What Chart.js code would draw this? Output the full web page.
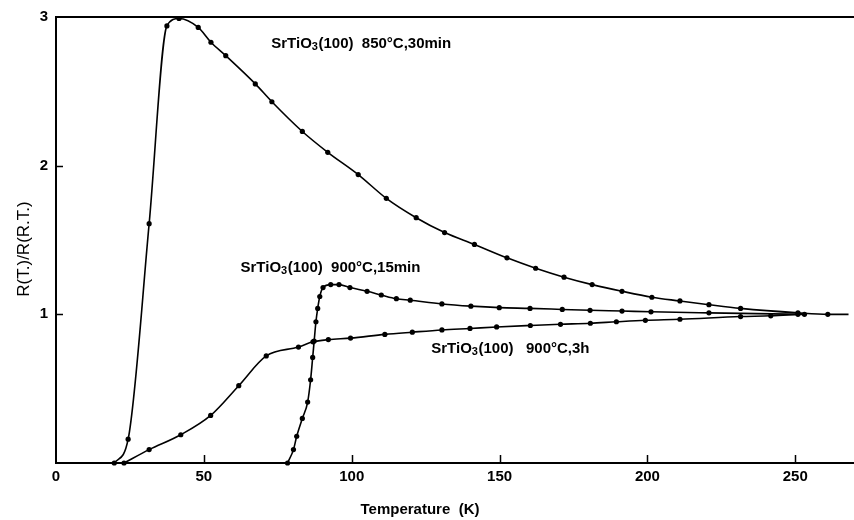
<!DOCTYPE html>
<html><head><meta charset="utf-8">
<script src="https://cdn.jsdelivr.net/npm/chart.js@4/dist/chart.umd.min.js"></script>
<style>html,body{margin:0;padding:0;background:#fff}#wrap{width:854px;height:520px}</style>
</head><body><div id="wrap"><canvas id="c" width="854" height="520"></canvas></div>
<script>
// Temperature (K) and R(T)/R(RT)
const temp850  = [19.7, 24.4, 31.5, 37.5, 41.6, 48.1, 52.4, 57.4, 67.4, 73.0, 83.3, 91.9, 102.2, 111.7, 121.8, 131.4, 141.5, 152.5, 162.2, 171.8, 181.3, 191.4, 201.5, 211.0, 220.8, 231.5, 250.9, 261.0, 268];
const ratio850 = [0, 0.16, 1.61, 2.94, 2.99, 2.93, 2.83, 2.74, 2.55, 2.43, 2.23, 2.09, 1.94, 1.78, 1.65, 1.55, 1.47, 1.38, 1.31, 1.25, 1.20, 1.155, 1.115, 1.09, 1.065, 1.04, 1.01, 1.00, 1.00];

const temp15  = [78.3, 80.3, 81.4, 83.3, 85.1, 86.1, 86.8, 87.3, 87.9, 88.5, 89.2, 90.3, 92.9, 95.7, 99.4, 105.2, 110.0, 115.1, 119.8, 130.5, 140.3, 149.9, 160.3, 171.2, 180.6, 191.4, 201.2, 220.8, 253.1];
const ratio15 = [0, 0.09, 0.18, 0.30, 0.41, 0.56, 0.71, 0.82, 0.95, 1.04, 1.12, 1.18, 1.20, 1.20, 1.18, 1.155, 1.13, 1.105, 1.095, 1.07, 1.055, 1.045, 1.04, 1.033, 1.027, 1.022, 1.017, 1.01, 1.00];

const temp3h  = [23.0, 31.5, 42.2, 52.3, 61.8, 71.1, 82.0, 86.9, 92.1, 99.6, 111.2, 120.5, 130.5, 140.0, 149.0, 160.4, 170.6, 180.7, 189.5, 199.3, 211.0, 231.5, 241.7, 250.9];
const ratio3h = [0, 0.09, 0.19, 0.32, 0.52, 0.72, 0.78, 0.815, 0.83, 0.84, 0.865, 0.88, 0.895, 0.905, 0.915, 0.925, 0.933, 0.94, 0.95, 0.96, 0.967, 0.985, 0.99, 1.00];

const xTickStep = 50;
const yTicks = [0, 1, 2, 3];
const xTitle = 'Temperature  (K)';
const yTitle = 'R(T.)/R(R.T.)';
const curveLabels = [
  {pre: 'SrTiO', sub: '3', post: '(100)  850°C,30min', t: 72.8, r: 2.82},
  {pre: 'SrTiO', sub: '3', post: '(100)  900°C,15min', t: 62.4, r: 1.31},
  {pre: 'SrTiO', sub: '3', post: '(100)   900°C,3h', t: 126.9, r: 0.77}
];

const toXY = (xs, ys) => xs.map((v, i) => ({x: v, y: ys[i]}));

const frame = {
  id: 'frame',
  beforeDatasetsDraw(chart) {
    const {ctx, chartArea: a, scales: {x, y}} = chart;
    ctx.save();
    ctx.strokeStyle = '#000';
    ctx.lineWidth = 2;
    ctx.beginPath();
    ctx.moveTo(chart.width, a.top); ctx.lineTo(a.left, a.top);
    ctx.lineTo(a.left, a.bottom); ctx.lineTo(chart.width, a.bottom);
    ctx.stroke();
    ctx.lineWidth = 1.5;
    ctx.beginPath();
    x.ticks.forEach(t => {
      if (t.value <= x.min) return;
      const px = Math.round(x.getPixelForValue(t.value)) + 0.5;
      ctx.moveTo(px, a.bottom); ctx.lineTo(px, a.bottom - 8);
    });
    y.ticks.forEach(t => {
      if (t.value <= y.min || t.value >= y.max) return;
      const py = Math.round(y.getPixelForValue(t.value)) + 0.5;
      ctx.moveTo(a.left, py); ctx.lineTo(a.left + 7, py);
    });
    ctx.stroke();
    ctx.restore();
  },
  afterDraw(chart) {
    const {ctx, scales: {x, y}} = chart;
    ctx.save();
    ctx.fillStyle = '#000';
    ctx.font = 'bold 15px "Liberation Sans", Arial, sans-serif';
    ctx.textAlign = 'center';
    ctx.textBaseline = 'middle';
    ctx.fillText(xTitle, 420, 510);
    ctx.save();
    ctx.translate(24, 249);
    ctx.rotate(-Math.PI / 2);
    ctx.font = '17px "Liberation Sans", Arial, sans-serif';
    ctx.fillText(yTitle, 0, 0);
    ctx.restore();
    ctx.textAlign = 'left';
    ctx.textBaseline = 'middle';
    curveLabels.forEach(l => {
      let px = x.getPixelForValue(l.t);
      const py = y.getPixelForValue(l.r);
      ctx.font = 'bold 15px "Liberation Sans", Arial, sans-serif';
      ctx.fillText(l.pre, px, py);
      px += ctx.measureText(l.pre).width;
      ctx.font = 'bold 11px "Liberation Sans", Arial, sans-serif';
      ctx.fillText(l.sub, px, py + 3);
      px += ctx.measureText(l.sub).width + 0.5;
      ctx.font = 'bold 15px "Liberation Sans", Arial, sans-serif';
      ctx.fillText(l.post, px, py);
    });
    ctx.restore();
  }
};

const ds = (label, data, lastHidden) => ({
  label, data,
  showLine: true,
  borderColor: '#000',
  backgroundColor: '#000',
  borderWidth: 1.6,
  cubicInterpolationMode: 'monotone',
  pointRadius: c => (lastHidden && c.dataIndex === data.length - 1) ? 0 : 2.6,
  pointBorderWidth: 0,
  clip: false
});

new Chart(document.getElementById('c'), {
  type: 'scatter',
  data: {
    datasets: [
      ds('SrTiO3(100) 850°C,30min', toXY(temp850, ratio850), true),
      ds('SrTiO3(100) 900°C,15min', toXY(temp15, ratio15), false),
      ds('SrTiO3(100) 900°C,3h', toXY(temp3h, ratio3h), false)
    ]
  },
  options: {
    responsive: false,
    animation: false,
    devicePixelRatio: 1,
    layout: {padding: {top: 17, right: 0, left: 0, bottom: 0}},
    plugins: {legend: {display: false}, tooltip: {enabled: false}},
    scales: {
      x: {
        type: 'linear', min: 0, max: 268.5,
        grid: {display: false, drawTicks: false},
        border: {display: false},
        ticks: {stepSize: xTickStep, includeBounds: false, color: '#000', padding: 5,
                maxRotation: 0,
                font: {family: '"Liberation Sans", Arial, sans-serif', size: 15, weight: 'bold'}},
        afterFit: s => { s.height = 57; }
      },
      y: {
        type: 'linear', min: yTicks[0], max: yTicks[yTicks.length - 1],
        grid: {display: false, drawTicks: false},
        border: {display: false},
        afterBuildTicks: s => { s.ticks = yTicks.map(v => ({value: v})); },
        ticks: {color: '#000', padding: 8,
                callback: v => v === 0 ? '' : String(v),
                font: {family: '"Liberation Sans", Arial, sans-serif', size: 15, weight: 'bold'}},
        afterFit: s => { s.width = 56; }
      }
    }
  },
  plugins: [frame]
});
</script>
</body></html>
